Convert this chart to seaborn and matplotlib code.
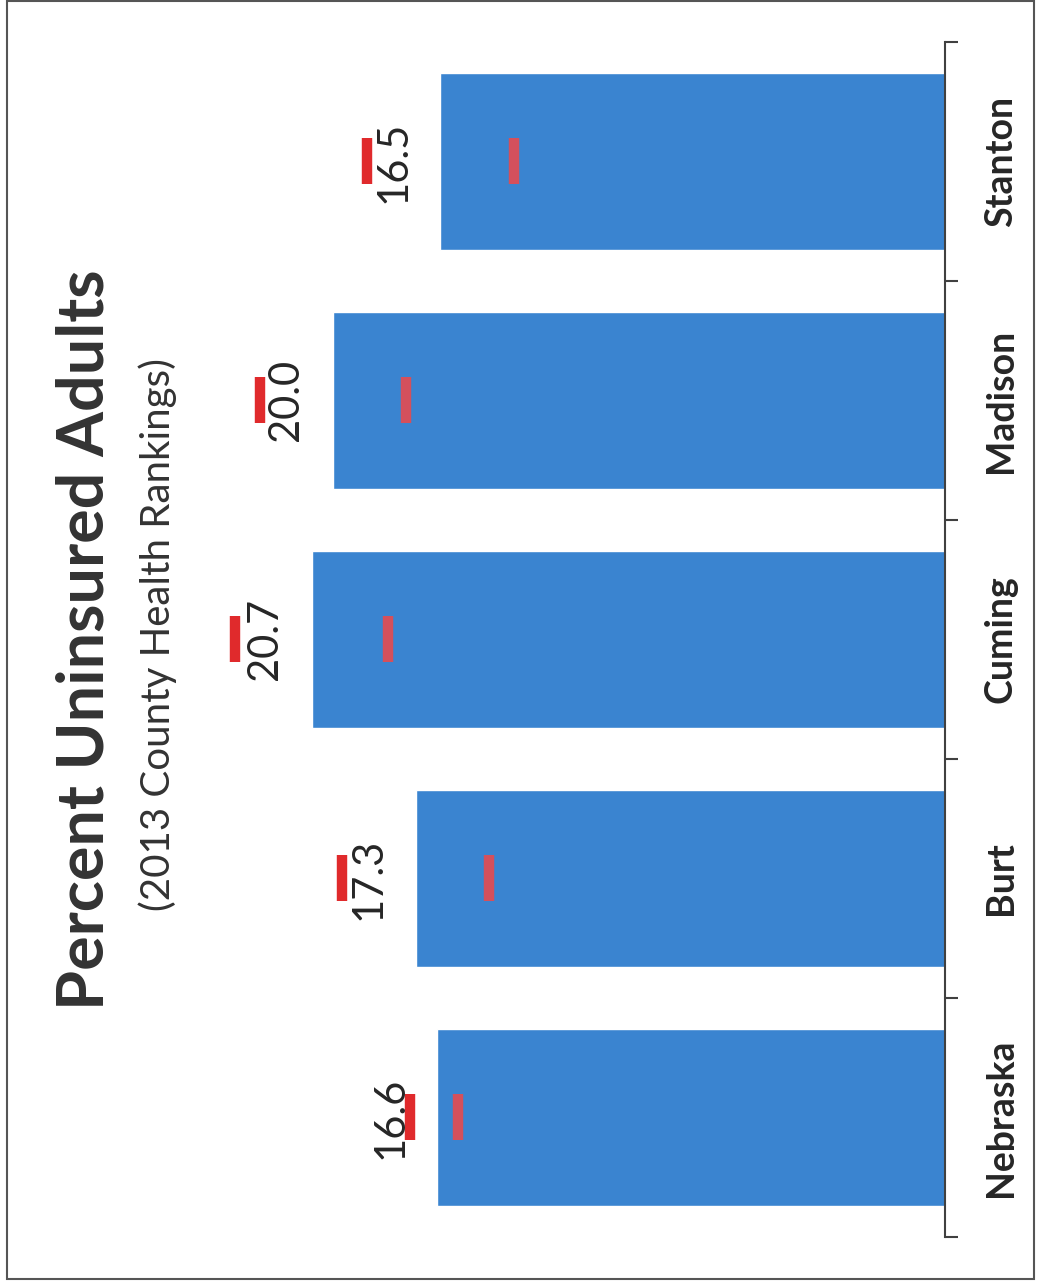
import numpy as np
import pandas as pd
import matplotlib
matplotlib.use("Agg")
import matplotlib.pyplot as plt
import seaborn as sns
from matplotlib.patches import Rectangle

counties = ["Stanton", "Madison", "Cuming", "Burt", "Nebraska"]
pct_uninsured = [16.5, 20.0, 20.7, 17.3, 16.6]
ci_low = [14.1, 17.6, 18.2, 14.9, 15.9]
ci_high = [18.9, 22.4, 23.2, 19.7, 17.5]
value_labels = ["16.5", "20.0", "20.7", "17.3", "16.6"]

df = pd.DataFrame({"county": counties, "pct": pct_uninsured})

sns.set_style("white")
plt.rcParams["font.family"] = ["Lato", "DejaVu Sans"]

fig = plt.figure(figsize=(10.37, 12.85), dpi=100)
ax = fig.add_axes([0.1736, 0.0374, 0.7377, 0.9300])

sns.barplot(data=df, y="county", x="pct", order=counties, orient="h",
            color="#3a84d0", saturation=1, width=0.74, ax=ax)

# error bar caps (the connecting line is not visible in the original)
ypos = np.arange(len(counties))
ax.plot(ci_high, ypos, ls="none", marker="|", markersize=33,
        markeredgewidth=7.5, color="#e02a2c")
ax.plot(ci_low, ypos, ls="none", marker="|", markersize=33,
        markeredgewidth=7.5, color="#d4505c")

# value labels just past the bar end
for y, v, lab in zip(ypos, pct_uninsured, value_labels):
    ax.annotate(lab, xy=(v, y), xytext=(-20, 0), textcoords="offset points",
                ha="right", va="center", rotation=90, fontsize=30,
                color="#262626")

# bars grow to the left, category axis on the right
ax.set_xlim(25, 0)
ax.set_ylim(4.5, -0.5)
ax.set_xlabel("")
ax.set_ylabel("")
ax.xaxis.set_visible(False)
for s in ["top", "bottom", "left"]:
    ax.spines[s].set_visible(False)
ax.spines["right"].set_color("#404040")
ax.spines["right"].set_linewidth(1.5)
ax.yaxis.tick_right()
ax.set_yticks(ypos)
ax.set_yticklabels(counties, rotation=90, va="center", fontsize=27,
                   fontweight="bold", color="#262626")
ax.tick_params(axis="y", which="major", length=0, pad=28)
ax.set_yticks(np.arange(-0.5, len(counties)), minor=True)
ax.tick_params(axis="y", which="minor", length=9, width=1.5,
               color="#404040", direction="out", right=True, left=False)

fig.text(0.082, 0.502, "Percent Uninsured Adults", rotation=90,
         ha="center", va="center", fontsize=46.5, fontweight="bold",
         color="#333333")
fig.text(0.152, 0.506, "(2013 County Health Rankings)", rotation=90,
         ha="center", va="center", fontsize=29, color="#333333")

# scanned page frame
fig.patches.append(Rectangle((0.007, 0.005), 0.99, 0.994,
                             transform=fig.transFigure, fill=False,
                             edgecolor="#555555", linewidth=1.5))

fig.savefig("out.png", dpi=100)
